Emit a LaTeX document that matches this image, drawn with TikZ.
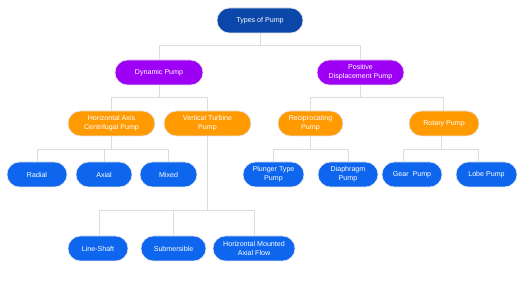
\documentclass[tikz,border=0pt]{standalone}
\usepackage{fontspec}
\setmainfont{Liberation Sans}
\definecolor{cRoot}{HTML}{0B47A8}
\definecolor{cPurple}{HTML}{9D00F5}
\definecolor{cOrange}{HTML}{FF9A00}
\definecolor{cBlue}{HTML}{0E66EE}
\definecolor{cLine}{HTML}{DCDCDC}
\definecolor{cEdge}{HTML}{E6E6EE}
\tikzset{
  pill/.style={rectangle, rounded corners=12.5pt, minimum height=25pt, inner sep=0pt,
    text=white, font=\fontsize{7.1}{8.8}\selectfont, align=center, draw=cEdge, line width=0.6pt},
  rootbox/.style={pill, fill=cRoot},
  purplebox/.style={pill, fill=cPurple},
  orangebox/.style={pill, fill=cOrange},
  bluebox/.style={pill, fill=cBlue},
  conn/.style={draw=cLine, line width=0.9pt}
}
\begin{document}
\begin{tikzpicture}[x=1pt,y=-1pt]
\useasboundingbox[fill=white] (0,0) rectangle (520,291);
% nodes
\node[rootbox, minimum width=86pt] (root) at (260,20.5) {Types of Pump};
\node[purplebox, minimum width=88pt] (dyn) at (159,72.5) {Dynamic Pump};
\node[purplebox, minimum width=87pt] (pd) at (360.5,72.5) {Positive\\Displacement Pump};
\node[orangebox, minimum width=87pt] (hacp) at (111.5,123.5) {Horizontal Axis\\Centrifugal Pump};
\node[orangebox, minimum width=87pt] (vtp) at (207.5,123.5) {Vertical Turbine\\Pump};
\node[orangebox, minimum width=65pt] (recip) at (310.5,123.5) {Reciprocating\\Pump};
\node[orangebox, minimum width=70pt] (rot) at (444,123.5) {Rotary Pump};
\node[bluebox, minimum width=60pt] (radial) at (37,174.5) {Radial};
\node[bluebox, minimum width=56pt] (axial) at (104,174.5) {Axial};
\node[bluebox, minimum width=57pt] (mixed) at (168.5,174.5) {Mixed};
\node[bluebox, minimum width=61pt] (plunger) at (273.5,174.5) {Plunger Type\\Pump};
\node[bluebox, minimum width=60pt] (diaph) at (348,174.5) {Diaphragm\\Pump};
\node[bluebox, minimum width=60pt] (gear) at (412,174.5) {Gear\ \ Pump};
\node[bluebox, minimum width=61pt] (lobe) at (486.5,174.5) {Lobe Pump};
\node[bluebox, minimum width=60pt] (line) at (98,248.5) {Line-Shaft};
\node[bluebox, minimum width=65pt] (sub) at (173.5,248.5) {Submersible};
\node[bluebox, minimum width=82pt] (hmaf) at (254,248.5) {Horizontal Mounted\\Axial Flow};
% connectors
\draw[conn] (root.south) -- ++(0,12.5) -| (dyn.north);
\draw[conn] (root.south) -- ++(0,12.5) -| (pd.north);
\draw[conn] (dyn.south) -- ++(0,12.5) -| (hacp.north);
\draw[conn] (dyn.south) -- ++(0,12.5) -| (vtp.north);
\draw[conn] (pd.south) -- ++(0,12.5) -| (recip.north);
\draw[conn] (pd.south) -- ++(0,12.5) -| ([xshift=-1pt]rot.north);
\draw[conn] (hacp.south) -- ++(0,13) -| (radial.north);
\draw[conn] (hacp.south) -- ++(0,13) -| (axial.north);
\draw[conn] (hacp.south) -- ++(0,13) -| (mixed.north);
\draw[conn] (recip.south) -- ++(0,13) -| (plunger.north);
\draw[conn] (recip.south) -- ++(0,13) -| (diaph.north);
\draw[conn] ([xshift=-3pt]rot.south) -- ++(0,13) -| ([xshift=-9pt]gear.north);
\draw[conn] ([xshift=-3pt]rot.south) -- ++(0,13) -| ([xshift=-8pt]lobe.north);
\draw[conn] (vtp.south) -- ++(0,74.5) -| ([xshift=1pt]line.north);
\draw[conn] (vtp.south) -- ++(0,74.5) -| (sub.north);
\draw[conn] (vtp.south) -- ++(0,74.5) -| (hmaf.north);
\end{tikzpicture}
\end{document}
